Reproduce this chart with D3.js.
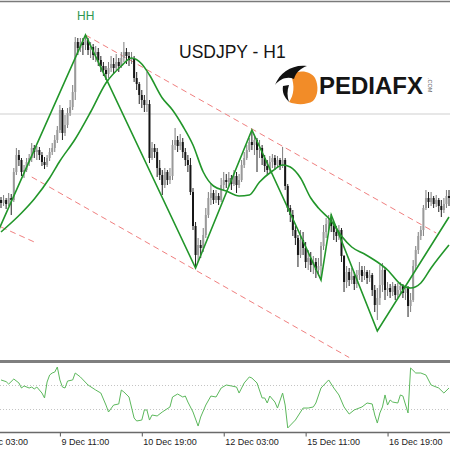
<!DOCTYPE html>
<html><head><meta charset="utf-8">
<script src="https://cdn.jsdelivr.net/npm/d3@7"></script>
<style>html,body{margin:0;padding:0;background:#fff;}svg{display:block;}</style>
</head><body><div id="chart"></div>
<script>
// ---------- DATA (USDJPY H1) ----------
const firstOpen = 118.60;
const closes = [
118.54,118.60,118.52,118.64,118.60,119.16,119.50,119.40,119.16,119.20,
119.36,119.44,119.64,119.56,119.60,119.50,119.36,119.30,119.44,119.56,
119.64,119.80,120.00,120.40,119.94,120.10,120.34,120.46,120.76,121.76,
121.64,121.76,121.70,121.80,121.60,121.66,121.50,121.56,121.40,121.28,
121.20,121.12,121.24,121.32,121.24,121.36,121.28,121.44,121.56,121.48,
121.40,121.44,121.04,120.92,120.70,120.60,120.50,120.52,119.44,119.64,
119.56,119.24,119.10,118.90,119.16,119.00,119.08,119.70,119.80,119.68,
119.76,119.56,119.40,119.30,118.76,118.08,117.50,117.70,117.64,117.90,
118.30,118.64,118.74,118.60,118.68,118.60,118.90,119.00,118.96,119.04,
118.92,119.08,118.90,119.00,119.30,119.44,119.60,119.76,119.70,119.80,
119.60,119.64,119.44,119.28,119.20,119.36,119.44,119.30,119.40,119.30,
119.40,118.88,118.44,118.30,118.00,117.84,117.50,117.80,117.64,117.36,
117.44,117.30,117.36,117.20,117.28,117.68,117.96,118.12,118.20,118.08,
117.96,117.88,118.00,117.48,116.96,117.16,117.00,117.08,116.92,117.10,
117.20,117.08,117.16,117.04,117.10,116.80,116.50,116.64,116.90,117.20,
116.80,116.84,116.76,116.88,116.70,116.80,116.88,116.74,116.84,116.48,
116.60,117.28,117.60,117.88,118.00,118.44,118.64,118.56,118.64,118.52,
118.60,118.48,118.40,118.52,118.68,118.64];
const highs = [
118.66,118.70,118.64,118.74,118.72,119.24,119.64,119.60,119.44,119.30,
119.44,119.52,119.74,119.70,119.68,119.66,119.56,119.46,119.50,119.64,
119.74,119.90,120.08,120.50,120.44,120.30,120.44,120.60,120.90,121.86,
121.84,121.84,121.84,121.90,121.84,121.76,121.72,121.68,121.64,121.48,
121.36,121.28,121.36,121.48,121.44,121.52,121.44,121.56,121.76,121.64,
121.56,121.56,121.48,121.16,120.96,120.80,120.70,121.16,120.60,119.76,
119.72,119.64,119.40,119.20,119.24,119.20,119.24,119.80,120.04,119.88,
119.92,119.84,119.64,119.50,119.44,118.84,118.16,117.84,117.80,118.04,
118.44,118.76,118.94,118.80,118.80,118.74,119.04,119.16,119.12,119.16,
119.10,119.20,119.16,119.12,119.40,119.56,119.70,119.84,120.00,119.90,
119.84,119.80,119.70,119.50,119.40,119.48,119.52,119.50,119.48,119.44,
119.66,119.44,118.92,118.50,118.40,118.08,117.90,118.00,117.96,117.76,
117.60,117.56,117.48,117.44,117.44,117.76,118.10,118.24,118.30,118.32,
118.16,118.08,118.10,118.04,117.50,117.28,117.24,117.24,117.16,117.20,
117.36,117.28,117.28,117.20,117.20,117.14,116.90,116.84,117.30,117.34,
117.24,116.96,116.92,116.96,116.92,116.94,116.96,116.92,116.90,116.88,
116.74,117.40,117.68,117.96,118.08,118.50,118.80,118.76,118.76,118.68,
118.70,118.64,118.60,118.64,118.80,118.80];
const lows = [
118.44,118.48,118.42,118.48,118.30,118.56,119.10,119.28,119.08,119.04,
119.16,119.28,119.36,119.44,119.40,119.40,119.28,119.22,119.26,119.38,
119.50,119.56,119.74,119.94,119.80,119.88,120.04,120.28,120.40,120.60,
121.50,121.56,121.50,121.60,121.50,121.44,121.40,121.36,121.28,121.16,
121.08,121.00,121.04,121.16,121.12,121.20,121.16,121.24,121.36,121.32,
121.28,121.32,120.96,120.80,120.52,120.44,120.36,120.36,119.34,119.40,
119.44,119.06,119.00,118.70,118.84,118.90,118.92,119.00,119.60,119.56,
119.60,119.44,119.28,119.16,118.70,118.00,117.26,117.36,117.44,117.56,
117.84,118.24,118.50,118.52,118.54,118.50,118.56,118.80,118.84,118.88,
118.80,118.88,118.74,118.84,118.96,119.24,119.40,119.56,119.60,119.50,
119.16,119.44,119.30,119.16,119.10,119.16,119.24,119.20,119.24,119.20,
119.24,118.80,118.36,118.16,117.88,117.70,117.26,117.44,117.50,117.24,
117.20,117.16,117.12,117.04,117.08,117.02,117.60,117.84,118.00,117.96,
117.80,117.76,117.80,117.36,116.76,116.84,116.88,116.92,116.80,116.84,
117.00,116.96,117.00,116.92,116.96,116.68,116.36,116.20,116.50,116.76,
116.60,116.68,116.64,116.68,116.60,116.64,116.72,116.64,116.60,116.26,
116.36,116.56,117.20,117.52,117.80,117.88,118.40,118.44,118.48,118.44,
118.46,118.36,118.26,118.34,118.44,118.48];

// moving average
const maBars = [0,8,13,19,23,29,35,41,47,51,55,58,63,67,71,75,79,83,88,93,97,101,106,110,113,117,121,124,129,133,137,142,147,151,156,160,164,168,175];
const maVals = [117.96,118.34,118.62,119.04,119.38,119.82,120.36,120.94,121.28,121.44,121.32,121.10,120.64,120.40,120.08,119.70,119.16,118.88,118.78,118.68,118.70,118.96,119.18,119.30,119.26,119.04,118.64,118.44,118.18,117.88,117.66,117.52,117.36,117.20,116.92,116.84,116.94,117.24,117.70];

// zigzag pivots
const zzBars = [-3,33,76,98,125,129,147,175];
const zzVals = [117.76,121.90,117.24,120.00,117.00,118.30,115.98,118.26];

// channel lines (dashed)
const chUpperBars = [33,170], chUpperVals = [121.90,117.94];
const chLowerBars = [12,136], chLowerVals = [119.06,115.45];
const chOldBars = [0,13],     chOldVals = [118.06,117.76];
const hLevel = 120.32;

// oscillator (lower panel)
const indLevels = [60,40];
const indBars = [0,2,3,5,7,8,9,11,12,13,14,16,17,18,19,20,21,22,23,24,25,26,28,29,31,34,37,39,41,42,44,46,47,48,50,52,53,55,56,57,58,59,61,63,66,67,69,71,72,73,75,77,78,80,82,84,86,88,90,92,93,95,97,98,100,102,103,104,105,107,108,110,111,112,115,118,120,122,123,125,128,130,132,134,136,138,141,143,145,146,147,148,149,150,151,152,153,155,156,157,159,160,162,164,166,168,171,173,175];
const indVals = [64.2,62.8,60.8,65,61.7,57.5,59.2,57.5,58.3,56.7,58.3,53.3,49.2,62.5,68.3,70,70.8,75,64.2,58.3,57.5,63.3,64.2,70,66.7,60,55.8,53.3,43.3,37.5,43.3,44.2,55.8,54.2,50,32.5,30,30.8,39.2,39.2,30.8,35,34.2,37.5,41.7,50,52.5,50,50.8,45.8,37.5,25.8,33.3,43.3,50.8,50,57.5,60,59.2,58.3,53.3,61.7,66.7,65.8,61.7,49.2,49.2,45,50.8,45.8,40.8,53.3,43.3,24.2,30.8,40.8,40.8,41.7,45,57.5,64.2,57.5,51.7,41.7,35.8,39.2,41.7,45,44.2,35,28.3,36.7,41.7,51.7,43.3,47.5,45.8,45,51.7,50.8,36.7,74.2,70,70,68.3,60,57.5,53.3,57.5];

// time axis
const tickBars = [-9,23,55,87,119,151];
const tickLabels = ["8 Dec 03:00","9 Dec 11:00","10 Dec 19:00","12 Dec 03:00","15 Dec 11:00","16 Dec 19:00"];

// ---------- DRAW ----------
const W = 450, H = 450;
const svg = d3.select("#chart").append("svg").attr("width", W).attr("height", H)
  .style("font-family", "'Liberation Sans', Arial, sans-serif");
svg.append("rect").attr("width", W).attr("height", H).attr("fill", "#fff");

const x = d3.scaleLinear().domain([0, 175]).range([1, 449]);
const y = d3.scaleLinear().domain([122.60, 115.36]).range([0, 362]);
const yInd = d3.scaleLinear().domain([40, 60]).range([409, 385]);

const defs = svg.append("defs");
defs.append("clipPath").attr("id", "mainClip").append("rect").attr("x", 0).attr("y", 3).attr("width", W).attr("height", 357);
defs.append("clipPath").attr("id", "indClip").append("rect").attr("x", 0).attr("y", 364).attr("width", W).attr("height", 68);

const main = svg.append("g").attr("clip-path", "url(#mainClip)");

// horizontal level
main.append("line").attr("x1", 0).attr("x2", W).attr("y1", y(hLevel)).attr("y2", y(hLevel))
  .attr("stroke", "#cfcfcf").attr("stroke-width", 1);

// dashed channel lines
const segLine = d3.line().x(d => x(d[0])).y(d => y(d[1]));
[[chUpperBars, chUpperVals], [chLowerBars, chLowerVals], [chOldBars, chOldVals]].forEach(([b, v]) => {
  main.append("path").attr("d", segLine(b.map((bb, i) => [bb, v[i]])))
    .attr("fill", "none").attr("stroke", "#f08080").attr("stroke-width", 1).attr("stroke-dasharray", "6,4");
});

// candles
const bars = closes.map((c, i) => ({ i, o: i === 0 ? firstOpen : closes[i - 1], c, h: highs[i], l: lows[i] }));
const cg = main.append("g");
bars.forEach(d => {
  const up = d.c >= d.o;
  const cx = x(d.i);
  const top = Math.max(d.h, d.o, d.c), bot = Math.min(d.l, d.o, d.c);
  cg.append("line").attr("x1", cx).attr("x2", cx).attr("y1", y(top)).attr("y2", y(bot))
    .attr("stroke", up ? "#7d7d7d" : "#222").attr("stroke-width", 1);
  const y1 = y(Math.max(d.o, d.c)), y2 = y(Math.min(d.o, d.c));
  cg.append("rect").attr("x", cx - 1).attr("width", 2).attr("y", y1).attr("height", Math.max(1, y2 - y1))
    .attr("fill", up ? "#9a9a9a" : "#161616");
});

// moving average
main.append("path")
  .attr("d", d3.line().curve(d3.curveMonotoneX).x(d => x(d[0])).y(d => y(d[1]))(maBars.map((b, i) => [b, maVals[i]])))
  .attr("fill", "none").attr("stroke", "#22962a").attr("stroke-width", 1.6);

// zigzag
main.append("path")
  .attr("d", segLine(zzBars.map((b, i) => [b, zzVals[i]])))
  .attr("fill", "none").attr("stroke", "#22962a").attr("stroke-width", 1.6);

// top border
svg.append("line").attr("x1", 0).attr("x2", W).attr("y1", 1.5).attr("y2", 1.5).attr("stroke", "#7a7a7a").attr("stroke-width", 1.5);

// texts
svg.append("text").attr("x", 77).attr("y", 20).attr("font-size", 12).attr("fill", "#2e9650").text("HH");
svg.append("text").attr("x", 179).attr("y", 57.5).attr("font-size", 17.5).attr("fill", "#151515").text("USDJPY - H1");

// logo
const logo = svg.append("g");
logo.append("path").attr("d", "M291,75 C299,69 311,71 315,78 C319,86 318,96 313,101 C307,105 296,105 289,102 C294,95 295,86 291,75 Z").attr("fill", "#f28c28");
logo.append("path").attr("d", "M275,85 C280,72 293,64 307,66 C301,68 296,72 294,79 C287,76 280,79 275,85 Z").attr("fill", "#111");
logo.append("path").attr("d", "M283,86 C282,92 284,97 289,102 C287,96 287,91 289,85 Z").attr("fill", "#111");
logo.append("text").attr("x", 319).attr("y", 93.5).attr("font-size", 24).attr("font-weight", "bold").attr("fill", "#151515").text("PEDIAFX");
logo.append("text").attr("transform", "translate(428,78) rotate(90)").attr("font-size", 5.5).attr("fill", "#666").text(".COM");

// separator between panels
svg.append("line").attr("x1", 0).attr("x2", W).attr("y1", 361.5).attr("y2", 361.5).attr("stroke", "#7f7f7f").attr("stroke-width", 3);

// indicator panel
const ind = svg.append("g");
indLevels.forEach(v => {
  ind.append("line").attr("x1", 0).attr("x2", W).attr("y1", yInd(v) + 0.5).attr("y2", yInd(v) + 0.5)
    .attr("stroke", "#c4c4c4").attr("stroke-width", 1).attr("stroke-dasharray", "1,2");
});
ind.append("path").attr("clip-path", "url(#indClip)")
  .attr("d", d3.line().x(d => x(d[0])).y(d => yInd(d[1]))(indBars.map((b, i) => [b, indVals[i]])))
  .attr("fill", "none").attr("stroke", "#5cb85c").attr("stroke-width", 1);

// time axis
const axis = d3.axisBottom(x).tickValues(tickBars).tickFormat((d, i) => tickLabels[i]).tickSize(4).tickSizeOuter(0);
const ag = svg.append("g").attr("transform", "translate(0,432.5)").call(axis);
ag.select(".domain").remove();
ag.selectAll(".tick line").attr("stroke", "#555");
ag.selectAll(".tick text").attr("text-anchor", "start").attr("dx", "1").attr("y", 6).attr("dy", "0.71em")
  .attr("font-size", 9).attr("fill", "#222").style("font-family", "'Liberation Sans', Arial, sans-serif");
svg.append("line").attr("x1", 0).attr("x2", W).attr("y1", 432.5).attr("y2", 432.5).attr("stroke", "#6a6a6a").attr("stroke-width", 1.5);
</script></body></html>
